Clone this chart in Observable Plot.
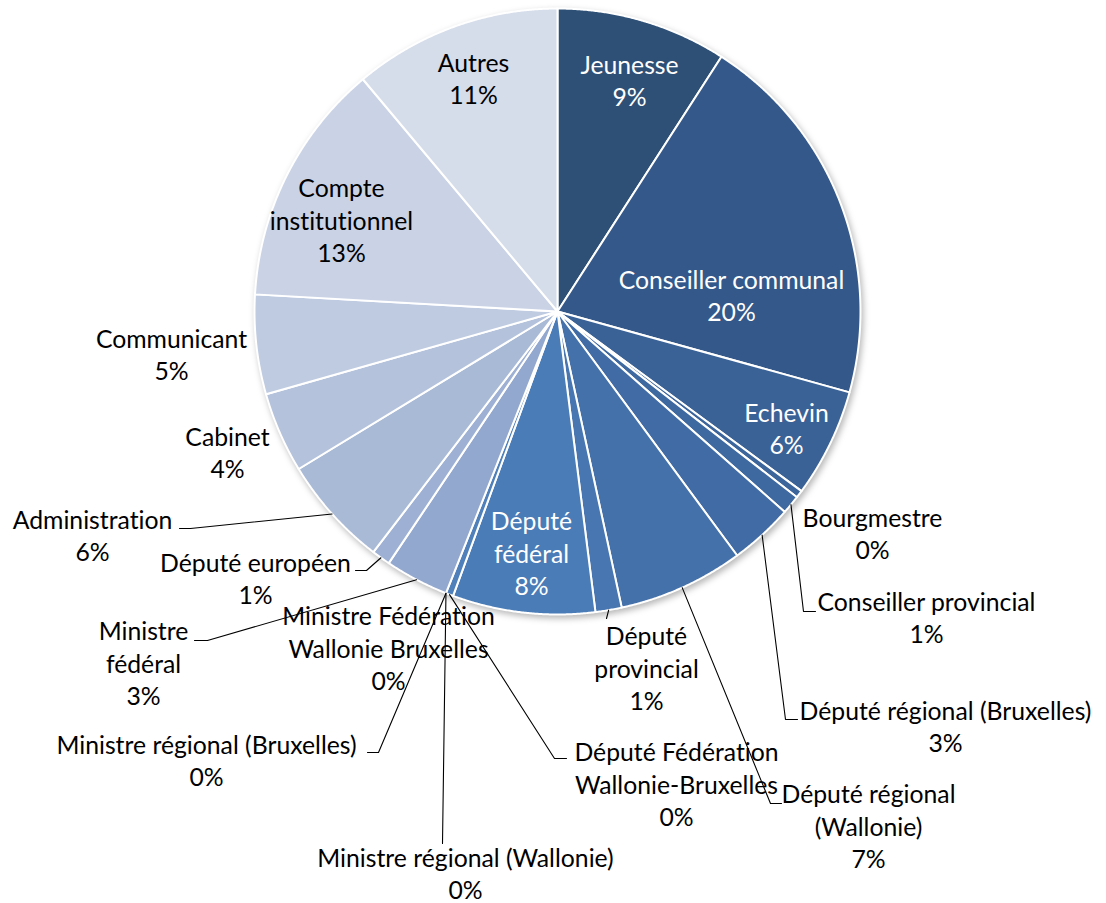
<!DOCTYPE html>
<html>
<head>
<meta charset="utf-8">
<script src="https://cdn.jsdelivr.net/npm/d3@7"></script>
<script src="https://cdn.jsdelivr.net/npm/@observablehq/plot@0.6"></script>
<style>
  html, body { margin: 0; padding: 0; background: #ffffff; }
  #chart { width: 1106px; height: 903px; }
  svg text { font-variant-ligatures: none; }
</style>
</head>
<body>
<div id="chart"></div>
<script>
// ---- Data (clockwise from 12 o'clock) ----
const categories = [
  "Jeunesse", "Conseiller communal", "Echevin", "Bourgmestre", "Conseiller provincial",
  "Député régional (Bruxelles)", "Député régional (Wallonie)", "Député provincial", "Député fédéral",
  "Député Fédération Wallonie-Bruxelles", "Ministre régional (Wallonie)", "Ministre Fédération Wallonie Bruxelles",
  "Ministre régional (Bruxelles)", "Ministre fédéral", "Député européen", "Administration", "Cabinet",
  "Communicant", "Compte institutionnel", "Autres"
];
const values = [9.1, 20.2, 5.8, 0.4, 1.0, 3.4, 6.7, 1.4, 7.6, 0.4, 0, 0, 0, 3.4, 1.0, 5.9, 4.3, 5.3, 13.0, 11.1];

// ---- Styles ----
const palette = [
  "#2E5077", "#34588A", "#3A6296", "#3C659C", "#3E68A0", "#406BA4", "#4571AA", "#4776B1", "#4A7CB8",
  "#4F80BA", "#6189C0", "#6E91C4", "#7C9AC8", "#93A8CF", "#9EB1D4", "#A9BAD7", "#B4C2DC", "#BFCBE1",
  "#CAD3E6", "#D5DCEA"
];
const whiteText = ["Jeunesse", "Conseiller communal", "Echevin", "Député fédéral"];

// ---- Layout ----
const cx = 557, cy = 311, R = 303;
const labelText = {
  "Député fédéral": "Député\nfédéral",
  "Compte institutionnel": "Compte\ninstitutionnel",
  "Ministre fédéral": "Ministre\nfédéral",
  "Député régional (Wallonie)": "Député régional\n(Wallonie)",
  "Député provincial": "Député\nprovincial",
  "Député Fédération Wallonie-Bruxelles": "Député Fédération\nWallonie-Bruxelles",
  "Ministre Fédération Wallonie Bruxelles": "Ministre Fédération\nWallonie Bruxelles"
};
const labelPos = {
  "Jeunesse": [629, 82],
  "Conseiller communal": [731, 297],
  "Echevin": [786, 430],
  "Bourgmestre": [872, 535],
  "Conseiller provincial": [926, 619],
  "Député régional (Bruxelles)": [945, 728],
  "Député régional (Wallonie)": [868, 828],
  "Député provincial": [646, 670],
  "Député fédéral": [531, 555],
  "Député Fédération Wallonie-Bruxelles": [676, 786],
  "Ministre régional (Wallonie)": [465, 875],
  "Ministre Fédération Wallonie Bruxelles": [388, 650],
  "Ministre régional (Bruxelles)": [206, 762],
  "Ministre fédéral": [143, 665],
  "Député européen": [255, 580],
  "Administration": [92, 537],
  "Cabinet": [227, 454],
  "Communicant": [171, 356],
  "Compte institutionnel": [341, 222],
  "Autres": [473, 80]
};
// leader line: elbow point, then end of horizontal stub
const leaderPos = {
  "Conseiller provincial": [[803, 611], [815, 611]],
  "Député régional (Bruxelles)": [[785, 719], [797, 719]],
  "Député régional (Wallonie)": [[770, 803], [781, 803]],
  "Député provincial": [[606, 618], [606, 618]],
  "Député Fédération Wallonie-Bruxelles": [[554, 758], [566, 758]],
  "Ministre régional (Wallonie)": [[442, 843], [442, 843]],
  "Ministre régional (Bruxelles)": [[378, 752], [367, 752]],
  "Ministre fédéral": [[207, 640], [194, 640]],
  "Député européen": [[366, 570], [355, 570]],
  "Administration": [[190, 528], [179, 528]]
};

// ---- Geometry from data ----
const total = d3.sum(values);
let acc = 0;
const slices = categories.map((name, i) => {
  const a0 = acc / total * 2 * Math.PI;
  acc += values[i];
  const a1 = acc / total * 2 * Math.PI;
  return {name, i, a0, a1, pct: Math.round(values[i] / total * 100)};
});
const pt = (a, r) => [cx + r * Math.sin(a), cy - r * Math.cos(a)];

const slicePts = [];
for (const s of slices) {
  if (s.a1 - s.a0 <= 0) continue;
  slicePts.push({name: s.name, x: cx, y: cy});
  const n = Math.max(2, Math.ceil((s.a1 - s.a0) / (Math.PI / 720)));
  for (let k = 0; k <= n; k++) {
    const a = s.a0 + (s.a1 - s.a0) * k / n;
    const [x, y] = pt(a, R);
    slicePts.push({name: s.name, x, y});
  }
}

const leaderPts = [];
for (const s of slices) {
  const lp = leaderPos[s.name];
  if (!lp) continue;
  const [x0, y0] = pt((s.a0 + s.a1) / 2, R);
  leaderPts.push({name: s.name, x: x0, y: y0});
  leaderPts.push({name: s.name, x: lp[0][0], y: lp[0][1]});
  leaderPts.push({name: s.name, x: lp[1][0], y: lp[1][1]});
}

const labels = slices.map(s => ({
  name: s.name,
  x: labelPos[s.name][0],
  y: labelPos[s.name][1],
  text: (labelText[s.name] || s.name) + "\n" + s.pct + "%",
  white: whiteText.includes(s.name)
}));

// font size fitted to Calibri-like widths
const ctx = document.createElement("canvas").getContext("2d");
ctx.font = "100px Lato";
const w100 = ctx.measureText("Député régional (Bruxelles)").width || 1300;
const fs = Math.max(16, Math.min(27, 292 / w100 * 100));
const lh = 32.5 / fs;

const chart = Plot.plot({
  width: 1106,
  height: 903,
  margin: 0,
  x: {type: "identity", axis: null},
  y: {type: "identity", axis: null},
  color: {domain: categories, range: palette},
  style: {fontFamily: "Lato, 'Open Sans', sans-serif", background: "#ffffff", overflow: "visible"},
  marks: [
    Plot.line(slicePts, {x: "x", y: "y", z: "name", fill: "name", stroke: "#ffffff", strokeWidth: 2, strokeLinejoin: "round", curve: "linear-closed"}),
    Plot.line(leaderPts, {x: "x", y: "y", z: "name", stroke: "#000000", strokeWidth: 1.1, curve: "linear"}),
    Plot.text(labels, {filter: d => !d.white, x: "x", y: "y", dy: -3, text: "text", fill: "#000000", fontSize: fs, lineHeight: lh, textAnchor: "middle", lineAnchor: "middle"}),
    Plot.text(labels, {filter: d => d.white, x: "x", y: "y", dy: -3, text: "text", fill: "#ffffff", fontSize: fs, lineHeight: lh, textAnchor: "middle", lineAnchor: "middle"})
  ]
});
document.getElementById("chart").appendChild(chart);
d3.select(chart).select('g[aria-label="line"]').style("filter", "drop-shadow(2px 3px 3px rgba(0,0,0,0.28))");
</script>
</body>
</html>
